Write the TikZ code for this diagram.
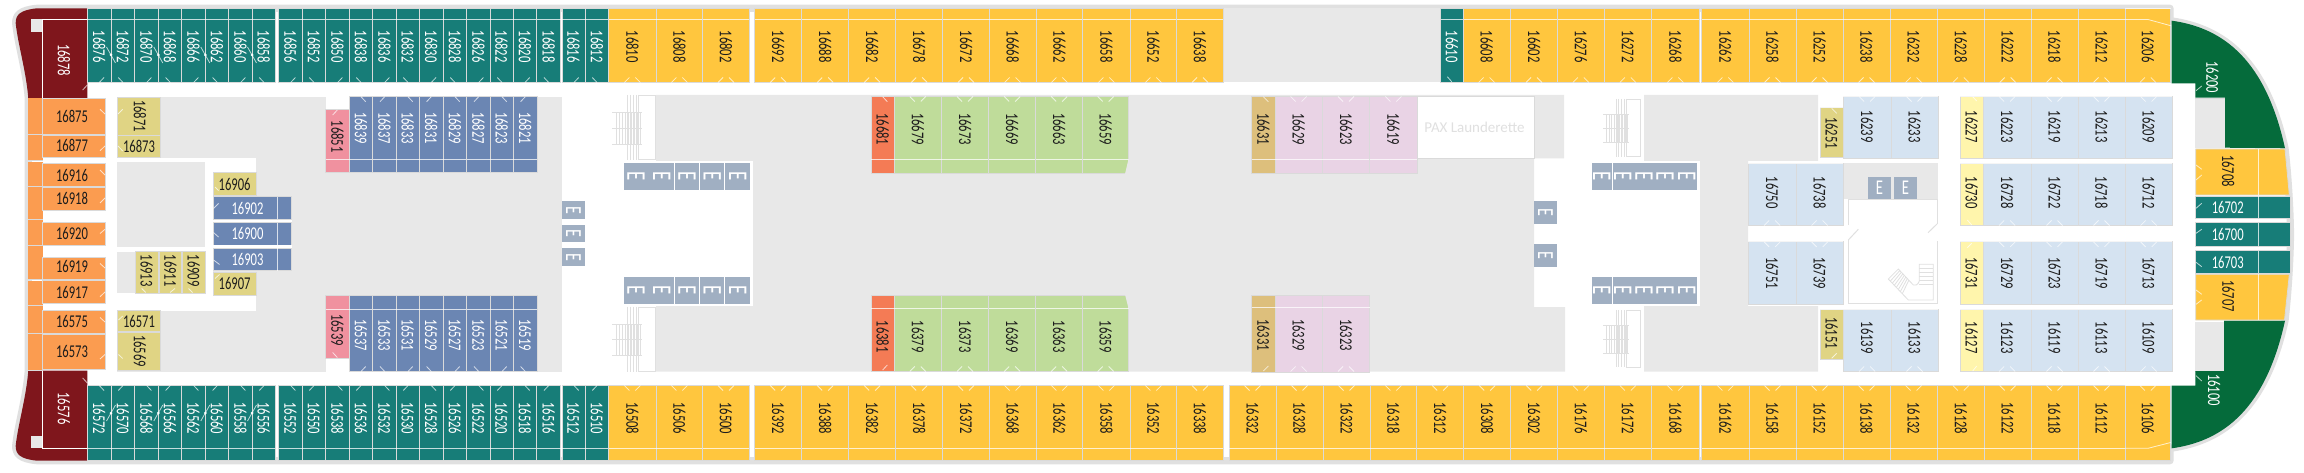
\documentclass[tikz,border=0pt]{standalone}
\usepackage{fontspec}
\setmainfont{Carlito}
\newfontfamily\labfont[FakeStretch=0.7]{Carlito}
\definecolor{cteal}{HTML}{177D78}
\definecolor{cyel}{HTML}{FFC63E}
\definecolor{cmar}{HTML}{7F161C}
\definecolor{cora}{HTML}{FB9C50}
\definecolor{ckhaki}{HTML}{E0D484}
\definecolor{cblue}{HTML}{6B86B3}
\definecolor{cpink}{HTML}{F0919F}
\definecolor{cred}{HTML}{F47B55}
\definecolor{cgreen}{HTML}{BFDC9A}
\definecolor{ctan}{HTML}{DDBF7C}
\definecolor{cmauve}{HTML}{E9D3E5}
\definecolor{clblue}{HTML}{D5E3F1}
\definecolor{cpale}{HTML}{FFF5AC}
\definecolor{cdgreen}{HTML}{056B3B}
\definecolor{celev}{HTML}{A0AFC2}
\definecolor{cdeck}{HTML}{E8E8E8}
\definecolor{chull}{HTML}{E0E0E0}
\definecolor{cedge}{HTML}{DADADA}
\definecolor{ctext}{HTML}{1C1C1C}
\tikzset{
  x=1pt,y=-1pt,
  lab/.style={font=\labfont\fontsize{18}{18}\selectfont,inner sep=0pt},
  elab/.style={font=\labfont\fontsize{27}{27}\selectfont,inner sep=0pt,text=white,rotate=-90},
  elabs/.style={font=\labfont\fontsize{23}{23}\selectfont,inner sep=0pt,text=white,rotate=-90},
  elabu/.style={font=\labfont\fontsize{21}{21}\selectfont,inner sep=0pt,text=white},
  tick/.style={draw=white,draw opacity=.7,line width=.8pt},
  band/.style={draw=white,draw opacity=.75,line width=.8pt},
  cellb/.style={draw=cedge,line width=.8pt},
  wall/.style={draw=chull,line width=1pt},
  stairl/.style={draw=chull,line width=.8pt},
}
% fill, text colour, y0, yline, y1, ylabel, tick base, tick dy, list a/b/label
\newcommand{\cabs}[9]{%
  \foreach \a/\b/\t in {#9}{%
    \fill[#1,cellb] (\a,#3) rectangle (\b,#5);
    \draw[band] (\a,#4) -- (\b,#4);
    \node[lab,text=#2,rotate=-90] (n\t) at ({(\a+\b)/2},#6) {\t};
    \ifnum#8=0\relax\else
      \draw[tick] ({(\a+\b)/2-8},#7) -- ({(\a+\b)/2-3},{#7+(#8)});
      \draw[tick] ({(\a+\b)/2+8},#7) -- ({(\a+\b)/2+3},{#7+(#8)});
    \fi
  }}
\newcommand{\hcab}[7]{% fill, textcol, x0,y0,x1,y1, label
  \fill[#1,cellb] (#3,#4) rectangle (#5,#6);
  \node[lab,text=#2] (n#7) at ({(#3+#5)/2},{(#4+#6)/2}) {#7};}
% single door ticks: base y, dy, list right type, list left type
\newcommand{\singles}[4]{%
  \foreach \a in {#3}{\draw[tick] (\a+12,#1) -- (\a+16.7,#1+#2);}
  \foreach \a in {#4}{\draw[tick] (\a+12,#1) -- (\a+7.3,#1+#2);}}
\newcommand{\stairset}[4]{%
  \begin{scope}[shift={(#1,#2)},xscale=#3,yscale=#4]
    \foreach \x in {15,18,21,24,26}{\draw[stairl] (\x,0) -- (\x,65);}
    \foreach \x in {4,7,10,13,16,19,22,25,28}{\draw[stairl] (\x,17.5) -- (\x,49);}
    \foreach \y in {17.5,33,49}{\draw[stairl] (0,\y) -- (30,\y);}
    \draw[wall] (26,1) -- (43,1) -- (43,65) -- (26,65);
  \end{scope}}
\begin{document}
\begin{tikzpicture}
\useasboundingbox (0,0) rectangle (2304,473);
\fill[white] (0,0) rectangle (2304,473);
% hull
\draw[fill=white,draw=chull,line width=7.2pt,line join=round]
  (37,8.3) -- (2170,8.3) -- (2170,20.7)
  .. controls (2225,28) and (2266,62) .. (2285,148.3)
  .. controls (2288,175) and (2290,205) .. (2290.5,234.5)
  .. controls (2290,264) and (2288,294) .. (2285,320.7)
  .. controls (2266,407) and (2225,441) .. (2170,448.3)
  -- (2170,460.7) -- (37,460.7)
  .. controls (20,459) and (15.5,454) .. (15.7,445.7)
  .. controls (18,424) and (26,399) .. (28.3,370.7)
  -- (28.3,98.3)
  .. controls (26,70) and (18,45) .. (15.7,23.3)
  .. controls (15.5,15) and (20,10) .. (37,8.3) -- cycle;
% decks
\fill[cdeck] (116.7,96.7) rectangle (562,371.7);
\fill[white] (325.7,95) rectangle (349,109.3);
\fill[white] (325.7,358.3) rectangle (349,372.5);
\fill[white] (116.7,157.7) rectangle (256,162);
\fill[white] (205,157.7) rectangle (256,172.3);
\fill[white] (205,162) rectangle (213.3,310.7);
\fill[white] (116.7,247) rectangle (213.3,251.7);
\fill[white] (116.7,293.3) rectangle (256,310.7);
\fill[cdeck] (656,95) -- (1564,95) -- (1564,158.3) -- (1534,158.3) -- (1534,307) -- (1565,307) -- (1565,371.7) -- (656,371.7) -- (656,306) -- (753,306) -- (753,161) -- (656,161) -- cycle;
\fill[cdeck] (1644,95) -- (1818,95) -- (1818,161) -- (1748,161) -- (1748,306) -- (1818,306) -- (1818,371.7) -- (1644,371.7) -- (1644,306) -- (1700,306) -- (1700,161) -- (1644,161) -- cycle;
\fill[cdeck] (1843,163) rectangle (1938,199);
\fill[cdeck] (1223.3,8.3) rectangle (1440.7,82.5);
\fill[cdeck] (2195,99) rectangle (2225,147.7);
\fill[cdeck] (2195,322) rectangle (2224,371);
\draw[cellb] (2195,98) -- (2225,98) -- (2225,148);
\draw[cellb] (2195,371) -- (2224,371) -- (2224,321);
% maroon stern suites
\fill[cmar] (87.3,8.3) -- (37,8.3) .. controls (20,10) and (15.5,15) .. (15.7,23.3) .. controls (18,45) and (26,70) .. (28.3,98.3) -- (87.3,98.3) -- cycle;
\fill[cmar] (87.3,460.7) -- (37,460.7) .. controls (20,459) and (15.5,454) .. (15.7,445.7) .. controls (18,424) and (26,399) .. (28.3,370.7) -- (87.3,370.7) -- cycle;
\fill[cdeck] (31,19.3) rectangle (42.5,31.7);
\fill[cdeck] (31,436) rectangle (42.5,448.3);
\draw[white,line width=.8pt] (87.3,19.5) -- (42.5,19.5) -- (42.5,98.3);
\draw[white,line width=.8pt] (87.3,448.3) -- (42.5,448.3) -- (42.5,370.7);
\node[lab,text=white,rotate=-90] (n16878) at (64,60) {16878};
\node[lab,text=white,rotate=-90] (n16576) at (64,408.5) {16576};
% orange, left fragments
\foreach \p/\q in {98.3/134.3,135/160.7,161.7/186.7,187/219.3,220/245,246/279.3,280.7/305,306/333.3,334.3/370}{
  \fill[cora] (28.3,\p) rectangle (42.5,\q);
  \draw[cellb] (28.3,\q) -- (42.5,\q);}
\foreach \p/\q/\t/\l in {98.3/134.3/16875/116.7,135/157.3/16877/145.7,163.3/186.7/16916/175,187/210/16918/198,222.7/245/16920/233,257/279.3/16919/266.7,280.7/303.3/16917/292,310.7/333.3/16575/321,334.3/369.3/16573/351}{
  \fill[cora,cellb] (42.5,\p) rectangle (105,\q);
  \node[lab,text=ctext] (n\t) at (72,\l) {\t};}
% khaki inner cabins
\fill[ckhaki,cellb] (117.3,97.7) rectangle (160.7,135);
\node[lab,text=ctext,rotate=-90] (n16871) at (140,116) {16871};
\hcab{ckhaki}{ctext}{117.3}{135}{160.7}{157}{16873}
\hcab{ckhaki}{ctext}{213.3}{172.3}{256}{195.7}{16906}
\hcab{ckhaki}{ctext}{213.3}{272.3}{256}{295}{16907}
\hcab{ckhaki}{ctext}{117.3}{310.7}{160.7}{331.7}{16571}
\fill[ckhaki,cellb] (117.3,332.7) rectangle (160.7,370);
\node[lab,text=ctext,rotate=-90] (n16569) at (140,351) {16569};
\foreach \a/\b/\t in {135/158.3/16913,159/181.7/16911,182.3/205/16909}{
  \fill[ckhaki,cellb] (\a,251.7) rectangle (\b,293.3);
  \node[lab,text=ctext,rotate=-90] (n\t) at ({(\a+\b)/2},270.7) {\t};}
% blue horizontal cabins
\foreach \p/\q/\t in {196.7/219.3/16902,222.7/245/16900,248.3/270.7/16903}{
  \fill[cblue,cellb] (213.3,\p) rectangle (291.7,\q);
  \draw[band] (277.7,\p) -- (277.7,\q);
  \node[lab,text=white] (n\t) at (247.5,{(\p+\q)/2}) {\t};}
\fill[white] (213.3,219.6) rectangle (291.7,222.4);
\fill[white] (213.3,245.3) rectangle (291.7,248);
% pink
\cabs{cpink}{ctext}{109.3}{159.3}{172.3}{136.7}{0}{0}{325.7/349/16851}
\cabs{cpink}{ctext}{295}{309}{358.3}{330}{0}{0}{325.7/349/16539}
% blue vertical cabins
\cabs{cblue}{white}{96.7}{159.3}{172.3}{128}{0}{0}{349/372.7/16839,372.7/396/16837,396/419.3/16833,419.3/443/16831,443/466.7/16829,466.7/490/16827,490/513.3/16823,513.3/537/16821}
\cabs{cblue}{white}{295}{309}{371.7}{335}{0}{0}{349/372.7/16537,372.7/396/16533,396/419.3/16531,419.3/443/16529,443/466.7/16527,466.7/490/16523,490/513.3/16521,513.3/537/16519}
\singles{96.7}{5}{349,396,443,490}{372.7,419.3,466.7,513.3}
\singles{371.5}{-5}{349,396,443,490}{372.7,419.3,466.7,513.3}
% top row teal
\cabs{cteal}{white}{8.3}{19.5}{82.5}{46.7}{0}{0}{87.3/111/16876,111/134.7/16872,134.7/158.3/16870,158.3/181.7/16868,181.7/205.3/16866,205.3/228.7/16862,228.7/252/16860,252/275.3/16858,278.7/302/16856,302/325.7/16852,325.7/349/16850,349/372.7/16838,372.7/396/16836,396/419.3/16832,419.3/443/16830,443/466.7/16828,466.7/490/16826,490/513/16822,513/536.7/16820,536.7/560.5/16818,562/585/16816,585/608.7/16812}
\singles{82.5}{-5}{87.3,134.7,181.7,228.7,278.7,325.7,372.7,419.3,466.7,513,562}{111,158.3,205.3,252,302,349,396,443,490,536.7,585}
% bottom row teal
\cabs{cteal}{white}{385}{448.3}{460.7}{418.3}{0}{0}{87.3/111/16572,111/134.7/16570,134.7/158.3/16568,158.3/181.7/16566,181.7/205.3/16562,205.3/228.7/16560,228.7/252/16558,252/275.3/16556,278.7/302/16552,302/325.7/16550,325.7/349/16538,349/372.7/16536,372.7/396/16532,396/419.3/16530,419.3/443/16528,443/466.7/16526,466.7/490/16522,490/513/16520,513/536.7/16518,536.7/560.5/16516,562/585/16512,585/608.7/16510}
\singles{385.5}{5}{87.3,134.7,181.7,228.7,278.7,325.7,372.7,419.3,466.7,513,562}{111,158.3,205.3,252,302,349,396,443,490,536.7,585}
% connecting-door marks
\foreach \x in {111,158.3,205.3,252}{
  \draw[tick] (\x-4.5,47) -- (\x+4.5,63);
  \fill[white] (\x,55) circle (1.5);
  \draw[tick] (\x-4.5,421) -- (\x+4.5,405);
  \fill[white] (\x,413) circle (1.5);}
% top row yellow
\cabs{cyel}{ctext}{8.3}{19.5}{82.5}{46.7}{82.5}{-5}{608.7/656/16810,656/702.7/16808,702.7/749.3/16802,754.7/801.7/16692,801.7/848.7/16688,848.7/895.7/16682,895.7/942.7/16678,942.7/989.3/16672,989.3/1036/16668,1036/1082.7/16662,1082.7/1130/16658,1130/1176.7/16652,1176.7/1223.3/16638,1463/1510.3/16608,1510.3/1557.7/16602,1557.7/1604/16276,1604/1651.7/16272,1651.7/1699/16268,1701.7/1749/16262,1749/1796/16258,1796/1843/16252,1843/1890/16238,1890/1937.3/16232,1937.3/1984.4/16228,1984.4/2031/16222,2031/2078/16218,2078/2125/16212}
\cabs{cyel}{ctext}{8.3}{8.3}{82.5}{46.7}{82.5}{-5}{2125/2170.7/16206}
\draw[band] (2125,19.5) -- (2148,19.5) -- (2170.7,25.7);
\cabs{cteal}{white}{8.3}{19.5}{82.5}{46.7}{0}{0}{1440.7/1463/16610}
% bottom row yellow
\cabs{cyel}{ctext}{385}{448.3}{460.7}{418.3}{385.5}{5}{608.7/656/16508,656/702.7/16506,702.7/749.3/16500,754.7/801.7/16392,801.7/848.7/16388,848.7/895.7/16382,895.7/942.7/16378,942.7/989.3/16372,989.3/1036/16368,1036/1082.7/16362,1082.7/1130/16358,1130/1176.7/16352,1176.7/1223.3/16338,1229/1276/16332,1276/1323/16328,1323/1370/16322,1370/1416.7/16318,1416.7/1463.7/16312,1463.7/1510.7/16308,1510.7/1557.7/16302,1557.7/1604/16176,1604/1651.7/16172,1651.7/1699/16168,1701.7/1749/16162,1749/1796/16158,1796/1843/16152,1843/1890/16138,1890/1937.3/16132,1937.3/1984.4/16128,1984.4/2031/16122,2031/2078/16118,2078/2125/16112}
\cabs{cyel}{ctext}{385}{385}{460.7}{418.3}{385.5}{5}{2125/2170.7/16106}
\draw[band] (2125,448.3) -- (2148,448.3) -- (2170.7,442.5);
% mid-ship blocks
\cabs{cred}{ctext}{96}{159.3}{173.3}{129.3}{0}{0}{871/894.3/16681}
\cabs{cred}{ctext}{295}{308.3}{371.7}{336.7}{0}{0}{871/894.3/16381}
\cabs{cgreen}{ctext}{96}{159.3}{173.3}{129}{96.5}{5}{894.3/941.3/16679,941.3/988.7/16673,988.7/1035.7/16669,1035.7/1082.7/16663,1082.7/1128.7/16659}
\cabs{cgreen}{ctext}{295}{308.3}{371.7}{336.7}{371.5}{-5}{894.3/941.3/16379,941.3/988.7/16373,988.7/1035.7/16369,1035.7/1082.7/16363,1082.7/1128.7/16359}
\fill[cdeck] (1125,174) -- (1128.4,159.5) -- (1130,159.5) -- (1130,174) -- cycle;
\fill[cdeck] (1125,294.5) -- (1128.4,308) -- (1130,308) -- (1130,294.5) -- cycle;
\cabs{ctan}{ctext}{96}{159.3}{173.7}{129}{0}{0}{1251.7/1275/16631}
\cabs{ctan}{ctext}{295}{307.7}{372}{335}{0}{0}{1251.7/1275/16331}
\cabs{cmauve}{ctext}{96}{159.3}{173.7}{129}{96.5}{5}{1275/1322.3/16629,1322.3/1369.7/16623,1369.7/1417/16619}
\cabs{cmauve}{ctext}{295}{307.7}{372}{335}{371.5}{-5}{1275/1322.3/16329,1322.3/1369.7/16323}
% launderette
\fill[white,cellb] (1417,96) rectangle (1534,158);
\node[font=\fontsize{15}{16}\selectfont,text=chull,inner sep=0pt] (pax) at (1474.5,127) {PAX Launderette};
% forward cabins
\cabs{ckhaki}{ctext}{107.7}{107.7}{157.7}{133}{0}{0}{1820/1843.3/16251}
\cabs{ckhaki}{ctext}{309.7}{309.7}{359.3}{333}{0}{0}{1820/1843.3/16151}
\cabs{clblue}{ctext}{96}{96}{158}{126.7}{96.5}{5}{1843.3/1891/16239,1891/1938/16233}
\cabs{clblue}{ctext}{163.3}{163.3}{225.7}{192.7}{225.5}{-5}{1748.3/1796/16750,1796/1843.3/16738}
\cabs{clblue}{ctext}{241.7}{241.7}{304.3}{273}{241.9}{5}{1748.3/1796/16751,1796/1843.3/16739}
\cabs{clblue}{ctext}{309}{309}{371.7}{337.7}{371.5}{-5}{1843.3/1891/16139,1891/1938/16133}
\cabs{cpale}{ctext}{96}{96}{158}{126.7}{0}{0}{1960/1983.3/16227}
\cabs{cpale}{ctext}{163.3}{163.3}{225.7}{192.7}{0}{0}{1960/1983.3/16730}
\cabs{cpale}{ctext}{241.7}{241.7}{304.3}{273}{0}{0}{1960/1983.3/16731}
\cabs{cpale}{ctext}{309}{309}{371.7}{337.7}{0}{0}{1960/1983.3/16127}
\cabs{clblue}{ctext}{96}{96}{158}{126.7}{96.5}{5}{1983.3/2031/16223,2031/2078/16219,2078/2125/16213,2125/2172.3/16209}
\cabs{clblue}{ctext}{163.3}{163.3}{225.7}{192.7}{225.5}{-5}{1983.3/2031/16728,2031/2078/16722,2078/2125/16718,2125/2172.3/16712}
\cabs{clblue}{ctext}{241.7}{241.7}{304.3}{273}{241.9}{5}{1983.3/2031/16729,2031/2078/16723,2078/2125/16719,2125/2172.3/16713}
\cabs{clblue}{ctext}{309}{309}{371.7}{337.7}{371.5}{-5}{1983.3/2031/16123,2031/2078/16119,2078/2125/16113,2125/2172.3/16109}
% bow suites
\fill[cdgreen] (2171.7,20.7) .. controls (2225,28) and (2266,62) .. (2285,148.3) -- (2225,147.7) -- (2225,97.7) -- (2195.3,97.7) -- (2195.3,83.3) -- (2171.7,83.3) -- cycle;
\fill[cdgreen] (2171.7,448.3) .. controls (2225,441) and (2266,407) .. (2285,320.7) -- (2224,320.7) -- (2224,371) -- (2195.3,371) -- (2195.3,385.7) -- (2171.7,385.7) -- cycle;
\node[lab,text=white,rotate=-90] (n16200) at (2212.3,77.3) {16200};
\node[lab,text=white,rotate=-90] (n16100) at (2214,390) {16100};
\fill[cyel,cellb] (2195.7,149) -- (2285,149) -- (2289.3,195) -- (2195.7,195) -- cycle;
\fill[cyel,cellb] (2195.7,274.3) -- (2289.3,274.3) -- (2284.5,320) -- (2195.7,320) -- cycle;
\draw[band] (2258.7,149) -- (2258.7,195);
\draw[band] (2258.7,274.3) -- (2258.7,320);
\node[lab,text=ctext,rotate=-90] (n16708) at (2228.3,171) {16708};
\node[lab,text=ctext,rotate=-90] (n16707) at (2228.3,296) {16707};
\foreach \p/\q/\t in {196/218.3/16702,222.7/246/16700,250.7/273.3/16703}{
  \fill[cteal,cellb] (2195.7,\p) rectangle (2290.3,\q);
  \draw[band] (2258.7,\p) -- (2258.7,\q);
  \node[lab,text=white] (n\t) at (2227.7,{(\p+\q)/2}) {\t};}
% single ticks
\draw[tick]
 (82.7,90) -- (87.3,85)  (82.7,378) -- (87.3,383)
 (100,109.3) -- (105,114)  (100,150.7) -- (105,146)  (100,170) -- (105,175)  (100,203) -- (105,198)
 (100,233.5) -- (105,229.3)  (100,263.5) -- (105,268)  (100,296.7) -- (105,292)  (100,317.5) -- (105,322)  (100,359) -- (105,354.5)
 (118,114) -- (122.7,109.3)  (118,146) -- (122.7,151)  (215,187) -- (218.5,190.5)  (213.5,208.5) -- (218.5,203.5)
 (213.5,232.5) -- (218.5,237)  (213.5,260) -- (219.5,264.5)  (215,278.5) -- (219.5,274.5)
 (141.7,288.5) -- (145.7,292.5)  (170,292.5) -- (175,288.5)  (188.5,288.5) -- (192.5,292.5)
 (118.5,320) -- (122.7,316)  (118.5,354.5) -- (122.7,358.5)
 (332.7,115) -- (337.3,110)  (332.7,352.5) -- (337.3,357.5)
 (882.7,96.7) -- (887.3,101.7)  (882.7,370) -- (887.3,365)
 (1263.3,96.7) -- (1268.3,101.7)  (1263.3,371) -- (1268.3,366)
 (1447.3,76.7) -- (1451.7,81.7)
 (1831.7,108.3) -- (1836.7,113.3)  (1831.7,358.3) -- (1836.7,353.3)
 (1972.7,96.7) -- (1976.7,101)  (1967.3,220) -- (1971.7,225)  (1967.3,247.7) -- (1971.7,243.3)  (1972.7,371) -- (1976.7,366)
 (2196,208.3) -- (2201.7,203.3)  (2196,233.3) -- (2201.7,229.3)  (2196,262.3) -- (2201.7,266.7)
 (2196,165) -- (2201.7,169.3)  (2196,180) -- (2201.7,175)  (2196,290) -- (2201.7,294.3)  (2196,304.3) -- (2201.7,300)
 (2196,90.7) -- (2201.7,86)  (2196,375.7) -- (2201.7,381);
% elevators
\fill[celev] (624,163.3) rectangle (674,190);
\fill[celev] (675,163.3) rectangle (699,190);
\fill[celev] (700,163.3) rectangle (724,190);
\fill[celev] (725,163.3) rectangle (750,190);
\foreach \x [count=\i] in {636,661.7,687,712.3,737.7}{\node[elab] (ea\i) at (\x,175.7) {E};}
\fill[celev] (624,277) rectangle (674,304);
\fill[celev] (675,277) rectangle (699,304);
\fill[celev] (700,277) rectangle (724,304);
\fill[celev] (725,277) rectangle (750,304);
\foreach \x [count=\i] in {636,661.7,687,712.3,737.7}{\node[elab] (eb\i) at (\x,290) {E};}
\foreach \p/\q [count=\i] in {201/219,225/242,248/266}{
  \fill[celev] (562,\p) rectangle (585,\q);
  \node[elabs] (ec\i) at (573.5,{(\p+\q)/2}) {E};}
\foreach \p/\q [count=\i] in {201/224,244/267}{
  \fill[celev] (1534,\p) rectangle (1557,\q);
  \node[elabs] (ed\i) at (1545.5,{(\p+\q)/2}) {E};}
\fill[celev] (1592,163.3) rectangle (1611.5,190);
\fill[celev] (1612.7,163.3) rectangle (1696.7,190);
\foreach \x [count=\i] in {1601.7,1622.7,1644,1665,1686.7}{\node[elab] (ee\i) at (\x,175.7) {E};}
\fill[celev] (1592,277) rectangle (1611.5,304);
\fill[celev] (1612.7,277) rectangle (1696.7,304);
\foreach \x [count=\i] in {1601.7,1622.7,1644,1665,1686.7}{\node[elab] (ef\i) at (\x,290) {E};}
\fill[celev] (1868,177.3) rectangle (1891,199);
\fill[celev] (1894,177.3) rectangle (1917,199);
\node[elabu] (eg1) at (1879.5,188) {E};
\node[elabu] (eg2) at (1905.5,188) {E};
% stairs
\stairset{612}{95}{1}{1}
\stairset{612}{306.7}{1}{1}
\stairset{1603}{99}{.88}{.89}
\stairset{1603}{310}{.88}{.88}
% central stair room
\draw[wall] (1848.3,225) -- (1848.3,200) -- (1937,200) -- (1937,224);
\draw[wall] (1848.3,240) -- (1858.3,229.3);
\draw[wall] (1928,232.7) -- (1937,224);
\draw[wall] (1848.3,240) -- (1848.3,303) -- (1937,303) -- (1937,241);
\draw[stairl] (1933.3,264.3) -- (1933.3,300) -- (1908.3,300) -- (1888.3,279) -- (1898.3,269) -- (1913.3,285) .. controls (1915,286) and (1918,285) .. (1919.3,281) -- (1919.3,264.3) -- cycle;
\foreach \y in {268,272,276,280,284}{\draw[stairl] (1919.3,\y) -- (1933.3,\y);}
\foreach \t in {.1,.2,.3,.4,.5,.6,.7}{\draw[stairl] ({1888.3+20*\t},{279+21*\t}) -- ({1898.3+15*\t},{269+16*\t});}
\end{tikzpicture}
\end{document}
